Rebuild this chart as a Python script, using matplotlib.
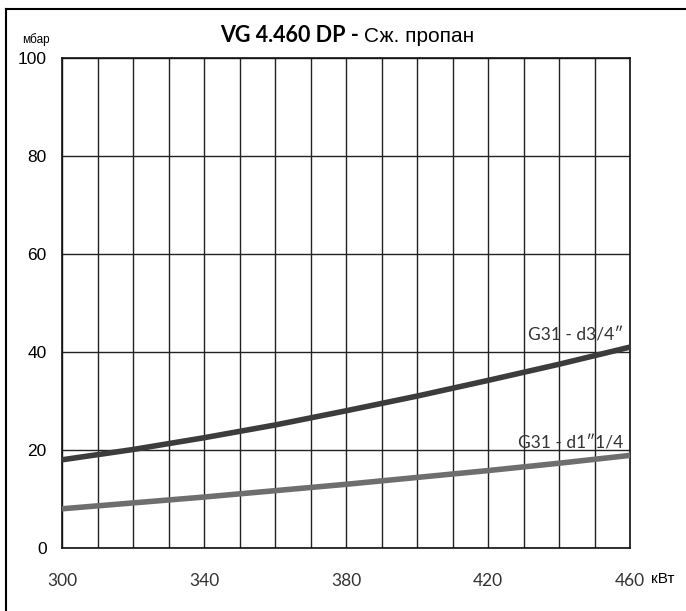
import matplotlib
matplotlib.use("Agg")
import matplotlib.pyplot as plt
from matplotlib.lines import Line2D
import numpy as np

# Data
power_kw = [300, 320, 340, 360, 380, 400, 420, 440, 460]
g31_d34 = [18.0, 20.1, 22.5, 25.1, 28.0, 31.0, 34.2, 37.5, 41.0]
g31_d114 = [8.0, 9.2, 10.4, 11.7, 13.0, 14.4, 15.8, 17.3, 18.9]
x_ticks = [300, 340, 380, 420, 460]
y_ticks = [0, 20, 40, 60, 80, 100]

fig = plt.figure(figsize=(6.86, 6.11), dpi=100)
ax = fig.add_axes([62/686, 1-548/611, (630-62)/686, (548-58)/611])

arial = ['Liberation Sans', 'DejaVu Sans']
avenir = ['Lato', 'DejaVu Sans']

ax.set_xlim(300, 460)
ax.set_ylim(0, 100)
ax.set_xticks(np.arange(300, 461, 10))
ax.set_yticks(np.arange(0, 101, 20))
ax.grid(True, color='#222222', linewidth=1.0)
ax.set_axisbelow(True)
ax.tick_params(length=0)
ax.set_xticklabels([str(v) if v in x_ticks else '' for v in range(300, 461, 10)],
                   fontfamily=avenir, fontsize=12.5, color='#333333')
ax.set_yticklabels([str(v) for v in y_ticks], fontfamily=arial, fontsize=12.5)
ax.tick_params(axis='y', pad=11)
ax.tick_params(axis='x', pad=18)
for s in ax.spines.values():
    s.set_linewidth(1.2)
    s.set_color('#111111')

ax.plot(power_kw, g31_d34, color='#3c3c3c', linewidth=4, solid_capstyle='butt', zorder=3)
ax.plot(power_kw, g31_d114, color='#6e6e6e', linewidth=4, solid_capstyle='butt', zorder=3)

ax.text(458, 41.8, 'G31 - d3/4\u2033', ha='right', va='bottom', fontsize=12.5,
        fontfamily=avenir, color='#333333')
ax.text(458, 19.6, 'G31 - d1\u20331/4', ha='right', va='bottom', fontsize=12.5,
        fontfamily=avenir, color='#333333')

# units
fig.text(22/686, 1-40/611, 'мбар', fontsize=8.5, fontfamily=arial, va='center', ha='left')
fig.text(651/686, 1-579/611, 'кВт', fontsize=11, fontfamily=arial, va='center', ha='left')

# title
split = 364/686
fig.text(split, 1-36/611, 'VG 4.460 DP - ', fontsize=15.5, fontweight='bold',
         fontfamily=avenir, ha='right', va='center')
fig.text(split, 1-36/611, 'Сж. пропан', fontsize=15, fontfamily=arial,
         ha='left', va='center')

# frame
fig.add_artist(Line2D([6/686, 6/686], [0, 1-9/611], transform=fig.transFigure, color='black', linewidth=1.5))
fig.add_artist(Line2D([6/686, 1], [1-9/611, 1-9/611], transform=fig.transFigure, color='black', linewidth=1.5))

fig.savefig('out.png', dpi=100)
